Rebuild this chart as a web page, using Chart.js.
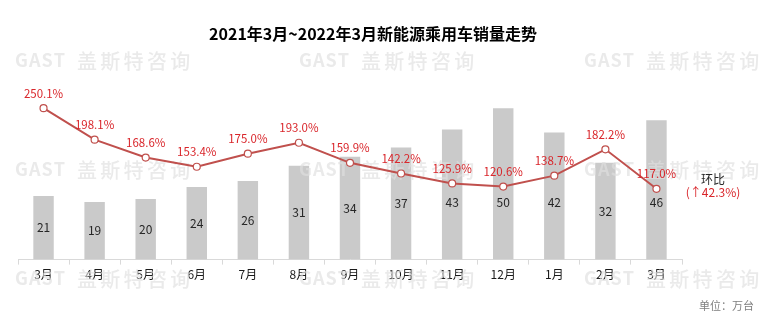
<!DOCTYPE html>
<html>
<head>
<meta charset="utf-8">
<script src="https://cdn.jsdelivr.net/npm/chart.js@4/dist/chart.umd.min.js"></script>
<style>
    html, body { margin: 0; padding: 0; background: #fff; }
    #wrap { position: relative; width: 770px; height: 325px; }
</style>
</head>
<body>
<div id="wrap"><canvas id="salesChart" width="770" height="325"></canvas></div>
<script>
// Monthly NEV passenger car sales (10k units) and month-on-month growth
const months = ['3月', '4月', '5月', '6月', '7月', '8月', '9月', '10月', '11月', '12月', '1月', '2月', '3月'];
const sales = [21, 19, 20, 24, 26, 31, 34, 37, 43, 50, 42, 32, 46];
const growth = [250.1, 198.1, 168.6, 153.4, 175.0, 193.0, 159.9, 142.2, 125.9, 120.6, 138.7, 182.2, 117.0];
const latestChange = 42.3;

const FONT = '"Noto Sans CJK SC", "Noto Sans", sans-serif';
const LINE_RED = '#c0504d';
const LABEL_RED = '#d9262b';

// Light watermark stamped across the canvas, drawn over the bars
const watermarkPlugin = {
    id: 'watermark',
    afterDatasetDraw(chart, args) {
        if (args.index !== 0) return;
        const ctx = chart.ctx;
        const rows = [60, 169, 278];
        const cols = [15, 299, 584];
        ctx.save();
        ctx.fillStyle = 'rgba(222, 222, 222, 0.65)';
        ctx.textBaseline = 'middle';
        rows.forEach(y => {
            cols.forEach(x => {
                let cx = x;
                ctx.font = 'bold 18px ' + FONT;
                for (const ch of 'GAST') {
                    ctx.fillText(ch, cx, y);
                    cx += ctx.measureText(ch).width + 1;
                }
                cx = x + 62;
                ctx.font = '500 20px ' + FONT;
                for (const ch of '盖斯特咨询') {
                    ctx.fillText(ch, cx, y + 1);
                    cx += 23.3;
                }
            });
        });
        ctx.restore();
    }
};

// Value labels, title and side notes
const labelsPlugin = {
    id: 'labels',
    afterDraw(chart) {
        const ctx = chart.ctx;
        const yBar = chart.scales.y;
        ctx.save();
        ctx.textAlign = 'center';
        ctx.textBaseline = 'middle';

        // sales figures inside the bars
        ctx.font = '12px ' + FONT;
        ctx.fillStyle = '#262626';
        chart.getDatasetMeta(0).data.forEach((bar, i) => {
            const level = Math.min(sales[i] / 2, 19);
            ctx.fillText(String(sales[i]), bar.x, yBar.getPixelForValue(level));
        });

        // growth percentages above the points
        ctx.font = '11.5px ' + FONT;
        ctx.fillStyle = LABEL_RED;
        chart.getDatasetMeta(1).data.forEach((pt, i) => {
            ctx.fillText(growth[i].toFixed(1) + '%', pt.x, pt.y - 15);
        });

        // title
        ctx.font = 'bold 16px ' + FONT;
        ctx.fillStyle = '#000';
        ctx.fillText('2021年3月~2022年3月新能源乘用车销量走势', 373, 34);

        // latest month-on-month change
        ctx.font = '12px ' + FONT;
        ctx.fillStyle = '#262626';
        ctx.fillText('环比', 713, 179);
        ctx.fillStyle = LABEL_RED;
        ctx.fillText('(↑' + latestChange.toFixed(1) + '%)', 713, 192);

        // unit note
        ctx.textAlign = 'left';
        ctx.font = '11px ' + FONT;
        ctx.fillStyle = '#7f7f7f';
        ctx.fillText('单位：万台', 699, 306);
        ctx.restore();
    }
};

new Chart(document.getElementById('salesChart'), {
    data: {
        labels: months,
        datasets: [{
            type: 'bar',
            label: '销量',
            data: sales,
            yAxisID: 'y',
            backgroundColor: '#cacaca',
            barPercentage: 0.4,
            categoryPercentage: 1,
            order: 1
        }, {
            type: 'line',
            label: '环比',
            data: growth,
            yAxisID: 'y1',
            borderColor: LINE_RED,
            borderWidth: 2,
            tension: 0,
            pointRadius: 3.5,
            pointBackgroundColor: '#fff',
            pointBorderColor: LINE_RED,
            pointBorderWidth: 1.2,
            order: 0
        }]
    },
    options: {
        responsive: false,
        animation: false,
        layout: {
            padding: { left: 18, right: 88, top: 78, bottom: 40 }
        },
        plugins: {
            legend: { display: false },
            tooltip: { enabled: false }
        },
        scales: {
            x: {
                z: 1,
                grid: {
                    offset: true,
                    drawOnChartArea: false,
                    drawTicks: true,
                    tickLength: 5,
                    color: '#d9d9d9'
                },
                border: { color: '#d9d9d9' },
                ticks: {
                    color: '#1a1a1a',
                    padding: 3,
                    font: { family: FONT, size: 12 }
                }
            },
            y: {
                display: false,
                min: 0,
                max: 60
            },
            y1: {
                display: false,
                min: 0,
                max: 300
            }
        }
    },
    plugins: [watermarkPlugin, labelsPlugin]
});
</script>
</body>
</html>
